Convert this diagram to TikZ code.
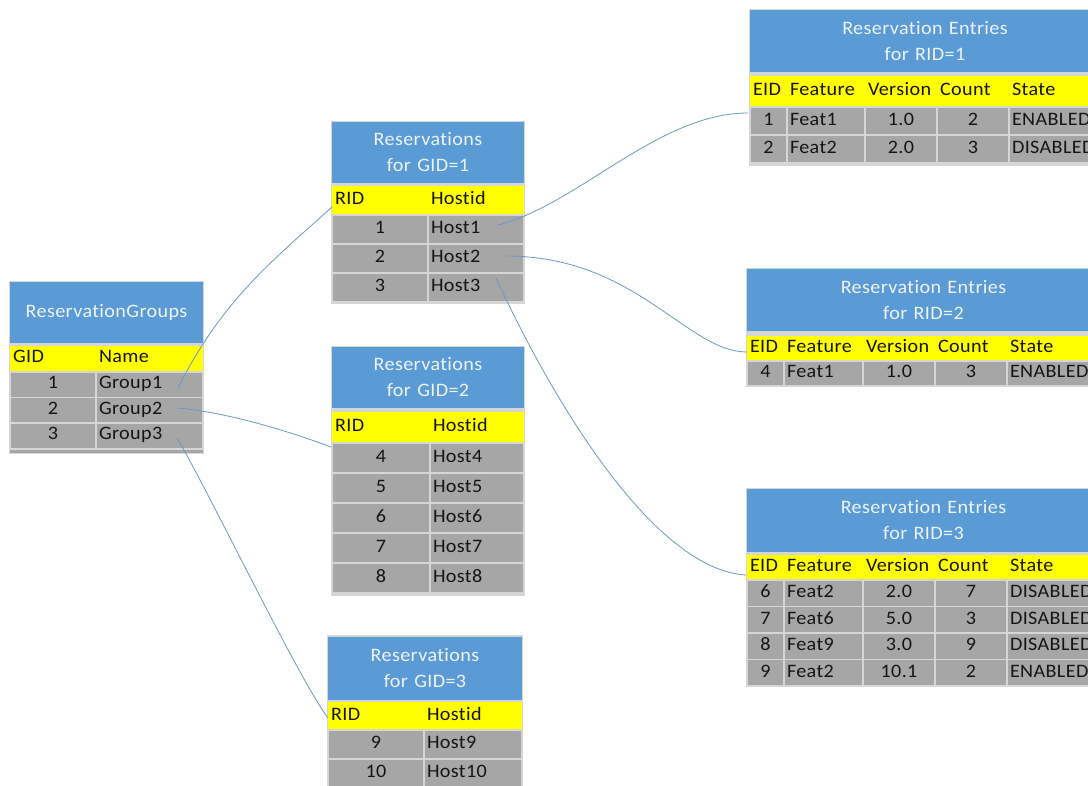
\documentclass[tikz,border=0pt]{standalone}
\usepackage{fontspec}
\setmainfont{Carlito}[FakeStretch=1.06, Ligatures=NoCommon, LetterSpace=2]
\definecolor{hdrblue}{HTML}{5B9BD5}
\definecolor{hdrtext}{HTML}{EDF2F9}
\definecolor{ylwfill}{HTML}{FFFF00}
\definecolor{cellgray}{HTML}{A6A6A6}
\definecolor{sepgray}{HTML}{D6D6D6}
\definecolor{ink}{HTML}{151515}
\definecolor{linkblue}{HTML}{6B98C8}
\newdimen\tcw
\newcommand\tcell[6]{\tcw=#4pt\relax\advance\tcw by -6pt\relax
  \node[#1, minimum width=#4pt, minimum height=#5pt, text width=\the\tcw] (#2) at (#3) {#6};}
\tikzset{
  every node/.style={font=\fontsize{19}{26}\selectfont, inner xsep=3pt, inner ysep=0pt, outer sep=0pt},
  hdr/.style={fill=hdrblue, text=hdrtext, align=center, anchor=north west},
  ylw/.style={fill=ylwfill, text=ink, align=left, text height=0.85em, text depth=0pt, anchor=north west},
  cc/.style={fill=cellgray, draw=sepgray, line width=1.2pt, text=ink, align=center, text height=0.85em, text depth=0pt, anchor=north west},
  cl/.style={cc, align=left},
  link/.style={draw=linkblue, line width=0.8pt},
  tblbg/.style={fill=sepgray}
}
\begin{document}
\begin{tikzpicture}[x=1pt,y=-1pt]
\useasboundingbox (0,0) rectangle (1088,786);
\fill[white] (0,0) rectangle (1088,786);
\clip (0,0) rectangle (1088,786);

% ReservationGroups
\fill[tblbg] (9,281) rectangle (204,454);
\tcell{hdr}{gH}{10,282}{193}{61}{ReservationGroups}
\tcell{ylw}{gYa}{10,346}{86}{25.5}{GID}
\tcell{ylw}{gYb}{96,346}{107}{25.5}{Name}
\tcell{cc}{g1a}{10,372}{86}{25.5}{1}
\tcell{cl}{g1b}{96,372}{107}{25.5}{Group1}
\tcell{cc}{g2a}{10,397.5}{86}{25.5}{2}
\tcell{cl}{g2b}{96,397.5}{107}{25.5}{Group2}
\tcell{cc}{g3a}{10,423}{86}{25.5}{3}
\tcell{cl}{g3b}{96,423}{107}{25.5}{Group3}
\fill[cellgray] (10,450) rectangle (203,453);

% Reservations GID=1
\fill[tblbg] (331,121) rectangle (525,304);
\tcell{hdr}{aH}{332,122}{192}{61}{Reservations\\for GID=1}
\tcell{ylw}{aYa}{332,186}{96}{29}{RID}
\tcell{ylw}{aYb}{428,186}{96}{29}{Hostid}
\tcell{cc}{a1a}{332,215}{96}{29}{1}
\tcell{cl}{a1b}{428,215}{96}{29}{Host1}
\tcell{cc}{a2a}{332,244}{96}{29}{2}
\tcell{cl}{a2b}{428,244}{96}{29}{Host2}
\tcell{cc}{a3a}{332,273}{96}{29}{3}
\tcell{cl}{a3b}{428,273}{96}{29}{Host3}

% Reservations GID=2
\fill[tblbg] (331,346) rectangle (525,596);
\tcell{hdr}{bH}{332,347}{192}{61}{Reservations\\for GID=2}
\tcell{ylw}{bYa}{332,412}{98}{31}{RID}
\tcell{ylw}{bYb}{430,412}{94}{31}{Hostid}
\tcell{cc}{b1a}{332,443}{98}{30}{4}
\tcell{cl}{b1b}{430,443}{94}{30}{Host4}
\tcell{cc}{b2a}{332,473}{98}{30}{5}
\tcell{cl}{b2b}{430,473}{94}{30}{Host5}
\tcell{cc}{b3a}{332,503}{98}{30}{6}
\tcell{cl}{b3b}{430,503}{94}{30}{Host6}
\tcell{cc}{b4a}{332,533}{98}{30}{7}
\tcell{cl}{b4b}{430,533}{94}{30}{Host7}
\tcell{cc}{b5a}{332,563}{98}{30}{8}
\tcell{cl}{b5b}{430,563}{94}{30}{Host8}

% Reservations GID=3
\fill[tblbg] (327,635) rectangle (523,790);
\tcell{hdr}{cH}{328,637}{194}{63}{Reservations\\for GID=3}
\tcell{ylw}{cYa}{328,702}{96}{28}{RID}
\tcell{ylw}{cYb}{424,702}{98}{28}{Hostid}
\tcell{cc}{c1a}{328,730}{96}{29}{9}
\tcell{cl}{c1b}{424,730}{98}{29}{Host9}
\tcell{cc}{c2a}{328,759}{96}{29}{10}
\tcell{cl}{c2b}{424,759}{98}{29}{Host10}

% Reservation Entries RID=1
\fill[tblbg] (749,9) rectangle (1100,166);
\tcell{hdr}{pH}{750,10}{350}{62}{Reservation Entries\\for RID=1}
\tcell{ylw}{pYa}{750,76}{37}{31}{EID}
\tcell{ylw}{pYb}{787,76}{78}{31}{Feature}
\tcell{ylw}{pYc}{865,76}{72}{31}{Version}
\tcell{ylw}{pYd}{937,76}{72}{31}{Count}
\tcell{ylw}{pYe}{1009,76}{91}{31}{State}
\tcell{cc}{p1a}{750,107}{37}{28}{1}
\tcell{cl}{p1b}{787,107}{78}{28}{Feat1}
\tcell{cc}{p1c}{865,107}{72}{28}{1.0}
\tcell{cc}{p1d}{937,107}{72}{28}{2}
\tcell{cl}{p1e}{1009,107}{91}{28}{ENABLED}
\tcell{cc}{p2a}{750,135}{37}{28}{2}
\tcell{cl}{p2b}{787,135}{78}{28}{Feat2}
\tcell{cc}{p2c}{865,135}{72}{28}{2.0}
\tcell{cc}{p2d}{937,135}{72}{28}{3}
\tcell{cl}{p2e}{1009,135}{91}{28}{DISABLED}

% Reservation Entries RID=2
\fill[tblbg] (746,268) rectangle (1100,387);
\tcell{hdr}{qH}{747,269}{353}{62}{Reservation Entries\\for RID=2}
\tcell{ylw}{qYa}{747,336}{37}{25}{EID}
\tcell{ylw}{qYb}{784,336}{79}{25}{Feature}
\tcell{ylw}{qYc}{863,336}{72}{25}{Version}
\tcell{ylw}{qYd}{935,336}{72}{25}{Count}
\tcell{ylw}{qYe}{1007,336}{93}{25}{State}
\tcell{cc}{q1a}{747,361}{37}{25}{4}
\tcell{cl}{q1b}{784,361}{79}{25}{Feat1}
\tcell{cc}{q1c}{863,361}{72}{25}{1.0}
\tcell{cc}{q1d}{935,361}{72}{25}{3}
\tcell{cl}{q1e}{1007,361}{93}{25}{ENABLED}

% Reservation Entries RID=3
\fill[tblbg] (746,488) rectangle (1100,687);
\tcell{hdr}{rH}{747,489}{353}{63}{Reservation Entries\\for RID=3}
\tcell{ylw}{rYa}{747,555}{37}{25}{EID}
\tcell{ylw}{rYb}{784,555}{79}{25}{Feature}
\tcell{ylw}{rYc}{863,555}{72}{25}{Version}
\tcell{ylw}{rYd}{935,555}{72}{25}{Count}
\tcell{ylw}{rYe}{1007,555}{93}{25}{State}
\tcell{cc}{r1a}{747,580}{37}{26.5}{6}
\tcell{cl}{r1b}{784,580}{79}{26.5}{Feat2}
\tcell{cc}{r1c}{863,580}{72}{26.5}{2.0}
\tcell{cc}{r1d}{935,580}{72}{26.5}{7}
\tcell{cl}{r1e}{1007,580}{93}{26.5}{DISABLED}
\tcell{cc}{r2a}{747,606.5}{37}{26.5}{7}
\tcell{cl}{r2b}{784,606.5}{79}{26.5}{Feat6}
\tcell{cc}{r2c}{863,606.5}{72}{26.5}{5.0}
\tcell{cc}{r2d}{935,606.5}{72}{26.5}{3}
\tcell{cl}{r2e}{1007,606.5}{93}{26.5}{DISABLED}
\tcell{cc}{r3a}{747,633}{37}{26.5}{8}
\tcell{cl}{r3b}{784,633}{79}{26.5}{Feat9}
\tcell{cc}{r3c}{863,633}{72}{26.5}{3.0}
\tcell{cc}{r3d}{935,633}{72}{26.5}{9}
\tcell{cl}{r3e}{1007,633}{93}{26.5}{DISABLED}
\tcell{cc}{r4a}{747,659.5}{37}{26.5}{9}
\tcell{cl}{r4b}{784,659.5}{79}{26.5}{Feat2}
\tcell{cc}{r4c}{863,659.5}{72}{26.5}{10.1}
\tcell{cc}{r4d}{935,659.5}{72}{26.5}{2}
\tcell{cl}{r4e}{1007,659.5}{93}{26.5}{ENABLED}

% connectors
\coordinate (l1s) at (178,388); \coordinate (l1e) at (332,207);
\coordinate (l2s) at (177,408); \coordinate (l2e) at (331,447);
\coordinate (l3s) at (177,438); \coordinate (l3e) at (328,718);
\coordinate (l4s) at (498,225); \coordinate (l4e) at (748,113);
\coordinate (l5s) at (506,256); \coordinate (l5e) at (747,352);
\coordinate (l6s) at (496,278); \coordinate (l6e) at (746,575);
\draw[link] (l1s) .. controls +(45,-90) and +(-55,50) .. (l1e);
\draw[link] (l2s) .. controls +(50,4) and +(-40,-15) .. (l2e);
\draw[link] (l3s) .. controls +(30,50) and +(-30,-40) .. (l3e);
\draw[link] (l4s) .. controls +(80,-20) and +(-90,0) .. (l4e);
\draw[link] (l5s) .. controls +(130,0) and +(-60,0) .. (l5e);
\draw[link] (l6s) .. controls +(60,130) and +(-90,-5) .. (l6e);
\end{tikzpicture}
\end{document}
